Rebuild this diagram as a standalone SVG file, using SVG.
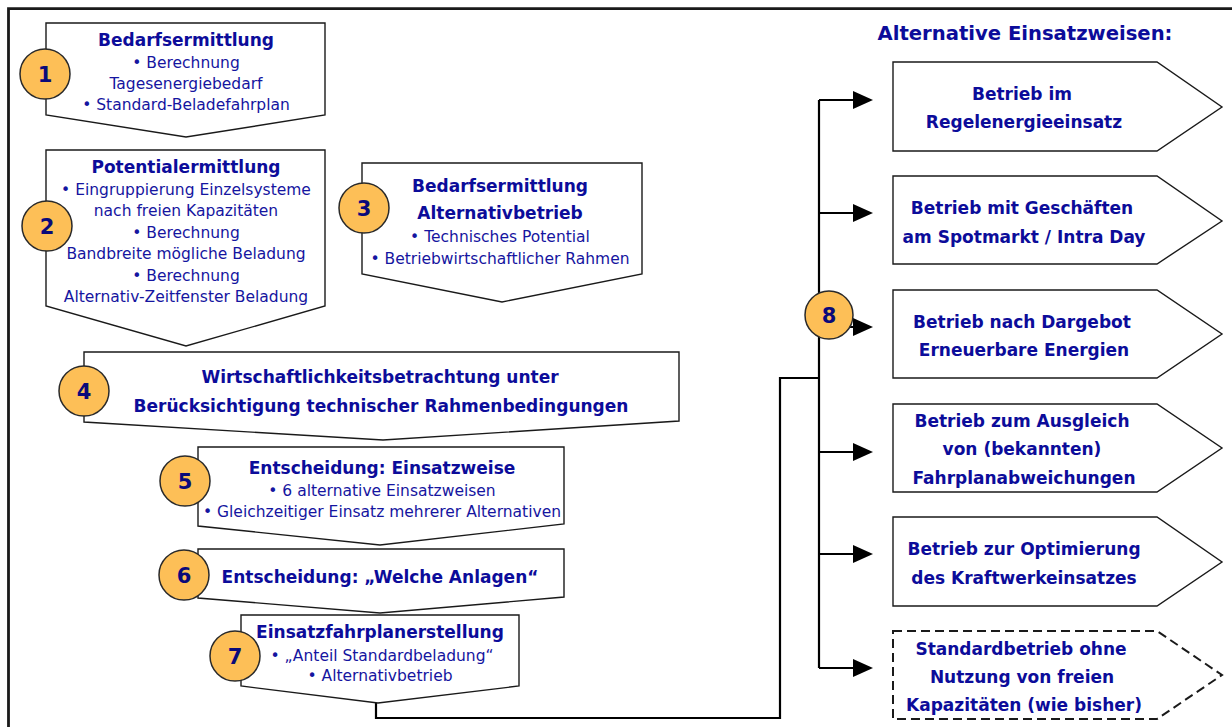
<svg xmlns="http://www.w3.org/2000/svg" width="1232" height="727" viewBox="0 0 1232 727">
<defs>
<style>
.box{fill:#fff;stroke:#1a1a1a;stroke-width:1.4;stroke-linejoin:miter}
.dash{stroke-dasharray:9 5;stroke-width:2}
.num{fill:#fdbf57;stroke:#2a2a2a;stroke-width:1.5}
.numt{font-family:"DejaVu Sans",sans-serif;font-weight:bold;font-size:21px;fill:#0a0a7a;text-anchor:middle}
.t{font-family:"DejaVu Sans",sans-serif;font-weight:bold;font-size:17px;fill:#0c0c9a;text-anchor:middle}
.r{font-family:"DejaVu Sans",sans-serif;font-size:15.5px;fill:#1515a0;text-anchor:middle}
.h{font-family:"DejaVu Sans",sans-serif;font-weight:bold;font-size:19.6px;fill:#0c0c9a;text-anchor:middle}
.conn{fill:none;stroke:#000;stroke-width:2.2}
.frame{fill:none;stroke:#1a1a1a;stroke-width:2.8}
</style>
<marker id="arr" viewBox="0 0 20 18" refX="2" refY="9" markerWidth="20" markerHeight="18" markerUnits="userSpaceOnUse" orient="auto">
<path d="M0,0 L20,9 L0,18 z" fill="#000"/>
</marker>
</defs>
<rect width="1232" height="727" fill="#fff"/>
<path class="frame" d="M8.5,727 V8.7 H1232"/>

<g id="connectors">
<path class="conn" d="M376,703 V718 H780 V378 H819"/>
<path class="conn" d="M819,100 V668"/>
<path class="conn" d="M819,100 H855" marker-end="url(#arr)"/>
<path class="conn" d="M819,213 H855" marker-end="url(#arr)"/>
<path class="conn" d="M819,327 H855" marker-end="url(#arr)"/>
<path class="conn" d="M819,452 H855" marker-end="url(#arr)"/>
<path class="conn" d="M819,554 H855" marker-end="url(#arr)"/>
<path class="conn" d="M819,668 H855" marker-end="url(#arr)"/>
</g>

<g id="step1">
<polygon class="box" points="46,23 325,23 325,115 186,137 46,115"/>
<circle class="num" cx="45" cy="74" r="25"/>
<text class="numt" x="45" y="81.5">1</text>
<text class="t" x="186" y="46">Bedarfsermittlung</text>
<text class="r" x="186" y="68">• Berechnung</text>
<text class="r" x="186" y="89">Tagesenergiebedarf</text>
<text class="r" x="186" y="110">• Standard-Beladefahrplan</text>
</g>

<g id="step2">
<polygon class="box" points="46,150 325,150 325,306 186,346 46,306"/>
<circle class="num" cx="47" cy="226" r="25"/>
<text class="numt" x="47" y="233.5">2</text>
<text class="t" x="186" y="173">Potentialermittlung</text>
<text class="r" x="186" y="195">• Eingruppierung Einzelsysteme</text>
<text class="r" x="186" y="216">nach freien Kapazitäten</text>
<text class="r" x="186" y="238">• Berechnung</text>
<text class="r" x="186" y="259">Bandbreite mögliche Beladung</text>
<text class="r" x="186" y="281">• Berechnung</text>
<text class="r" x="186" y="302">Alternativ-Zeitfenster Beladung</text>
</g>

<g id="step3">
<polygon class="box" points="362,163 642,163 642,274 502,302 362,274"/>
<circle class="num" cx="364" cy="208" r="25"/>
<text class="numt" x="364" y="215.5">3</text>
<text class="t" x="500" y="192">Bedarfsermittlung</text>
<text class="t" x="500" y="219">Alternativbetrieb</text>
<text class="r" x="500" y="242">• Technisches Potential</text>
<text class="r" x="500" y="264">• Betriebwirtschaftlicher Rahmen</text>
</g>

<g id="step4">
<polygon class="box" points="84,352 679,352 679,421 383,440 84,422"/>
<circle class="num" cx="84" cy="391" r="25"/>
<text class="numt" x="84" y="398.5">4</text>
<text class="t" x="380" y="383">Wirtschaftlichkeitsbetrachtung unter</text>
<text class="t" x="381" y="412">Berücksichtigung technischer Rahmenbedingungen</text>
</g>

<g id="step5">
<polygon class="box" points="198,447 564,447 564,524 380,545 198,526"/>
<circle class="num" cx="185" cy="481" r="25"/>
<text class="numt" x="185" y="488.5">5</text>
<text class="t" x="382" y="474">Entscheidung: Einsatzweise</text>
<text class="r" x="382" y="496">• 6 alternative Einsatzweisen</text>
<text class="r" x="382" y="517">• Gleichzeitiger Einsatz mehrerer Alternativen</text>
</g>

<g id="step6">
<polygon class="box" points="198,549 564,549 564,597 380,613 198,598"/>
<circle class="num" cx="184" cy="575" r="25"/>
<text class="numt" x="184" y="582.5">6</text>
<text class="t" x="380" y="583">Entscheidung: „Welche Anlagen“</text>
</g>

<g id="step7">
<polygon class="box" points="241,615 519,615 519,686 378,703 241,686"/>
<circle class="num" cx="235" cy="656" r="25"/>
<text class="numt" x="235" y="663.5">7</text>
<text class="t" x="380" y="638">Einsatzfahrplanerstellung</text>
<text class="r" x="382" y="661">• „Anteil Standardbeladung“</text>
<text class="r" x="380" y="681">• Alternativbetrieb</text>
</g>

<g id="step8">
<circle class="num" cx="829" cy="315" r="24"/>
<text class="numt" x="829" y="322.5">8</text>
</g>

<text class="h" x="1025" y="40">Alternative Einsatzweisen:</text>

<g id="altA">
<polygon class="box" points="893,62 1157,62 1222,107 1157,151 893,151"/>
<text class="t" x="1022" y="100">Betrieb im</text>
<text class="t" x="1024" y="128">Regelenergieeinsatz</text>
</g>

<g id="altB">
<polygon class="box" points="893,176 1157,176 1222,221 1157,264 893,264"/>
<text class="t" x="1022" y="214">Betrieb mit Geschäften</text>
<text class="t" x="1024" y="243">am Spotmarkt / Intra Day</text>
</g>

<g id="altC">
<polygon class="box" points="893,290 1157,290 1222,334 1157,378 893,378"/>
<text class="t" x="1022" y="328">Betrieb nach Dargebot</text>
<text class="t" x="1024" y="356">Erneuerbare Energien</text>
</g>

<g id="altD">
<polygon class="box" points="893,404 1157,404 1222,448 1157,492 893,492"/>
<text class="t" x="1022" y="427">Betrieb zum Ausgleich</text>
<text class="t" x="1022" y="455">von (bekannten)</text>
<text class="t" x="1024" y="484">Fahrplanabweichungen</text>
</g>

<g id="altE">
<polygon class="box" points="893,517 1157,517 1222,562 1157,606 893,606"/>
<text class="t" x="1024" y="555">Betrieb zur Optimierung</text>
<text class="t" x="1024" y="584">des Kraftwerkeinsatzes</text>
</g>

<g id="altF">
<polygon class="box dash" points="893,631 1157,631 1222,675 1157,719 893,719"/>
<text class="t" x="1021" y="655">Standardbetrieb ohne</text>
<text class="t" x="1022" y="683">Nutzung von freien</text>
<text class="t" x="1024" y="711">Kapazitäten (wie bisher)</text>
</g>
</svg>
